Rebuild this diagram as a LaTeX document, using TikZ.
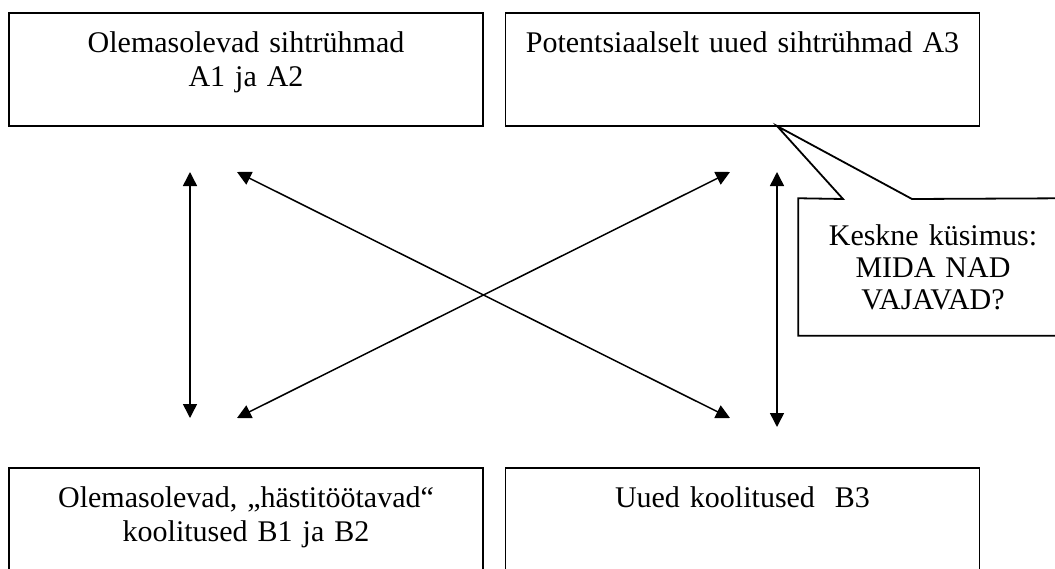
\documentclass[tikz,border=0pt]{standalone}
\usepackage{fontspec}
\setmainfont{Liberation Serif}
\usetikzlibrary{arrows.meta,positioning}

\begin{document}
\begin{tikzpicture}[
        x = 0.5pt, y = -0.5pt, % pixel grid, y going down
        > = {Triangle[length=7pt, width=7pt]}, % arrow head style
        line width = 0.75pt, % line style
        node distance = 248.25pt, % distance between box centres
        font = \fontsize{15}{17}\selectfont
      ]

      \tikzstyle{box}=[rectangle, draw, line width=0.9pt, inner sep=0pt, align=center,
        text width=237pt, text height=19.7pt, text depth=36.8pt]
      \tikzstyle{link}=[<->]

      \useasboundingbox (0,0) rectangle (1055,568);
      \clip (0,0) rectangle (1055,568);

      \node[box] (tl) at (246,69.5) {Olemasolevad sihtrühmad\\A1 ja A2};
      \node[box] (tr) [right of=tl] {Potentsiaalselt uued sihtrühmad A3};
      \node[box] (bl) [below of=tl, node distance=227.5pt] {Olemasolevad, „hästitöötavad“\\koolitused B1 ja B2};
      \node[box] (br) [right of=bl] {Uued koolitused~\ B3};

      % callout
      \node[inner sep=0pt, align=center, text width=134pt, text height=23pt, text depth=45pt,
        font=\fontsize{15}{16}\selectfont] (q) at (933,267) {Keskne küsimus:\\MIDA NAD\\VAJAVAD?};
      \coordinate (tip) at (777,126);
      \coordinate (p1) at (843,199);
      \coordinate (p2) at (912,199);
      \draw[line width=0.9pt] (q.north west) -- (p1) -- (tip) -- (p2) -- (q.north east)
        -- (q.south east) -- (q.south west) -- cycle;

      % arrow ends
      \coordinate (l1) at (190,172);
      \coordinate (l2) at (190,418);
      \coordinate (r1) at (777,172);
      \coordinate (r2) at (777,427);
      \coordinate (d1) at (237,172);
      \coordinate (d2) at (730,418);
      \coordinate (d3) at (730,172);
      \coordinate (d4) at (237,418);

      \draw[link] (l1) -- (l2);
      \draw[link] (r1) -- (r2);
      \draw[link] (d1) -- (d2);
      \draw[link] (d3) -- (d4);

    \end{tikzpicture}
\end{document}
